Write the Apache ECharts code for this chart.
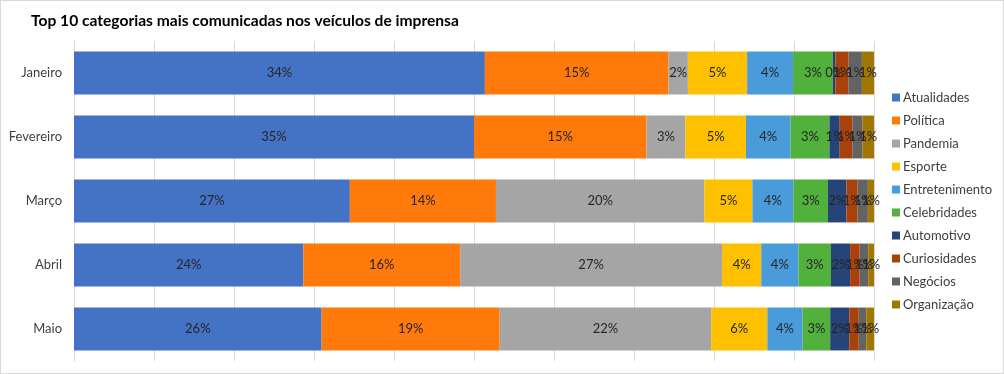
<!DOCTYPE html>
<html>
<head>
<meta charset="utf-8">
<script src="https://cdn.jsdelivr.net/npm/echarts@6/dist/echarts.min.js"></script>
<style>
html,body{margin:0;padding:0;background:#fff;}
#c{width:1004px;height:374px;box-sizing:border-box;border:1px solid #d9d9d9;}
</style>
</head>
<body>
<div id="c"></div>
<script>
const months = ['Janeiro', 'Fevereiro', 'Março', 'Abril', 'Maio'];
const categories = ['Atualidades', 'Política', 'Pandemia', 'Esporte', 'Entretenimento', 'Celebridades', 'Automotivo', 'Curiosidades', 'Negócios', 'Organização'];
const Atualidades = [34.0, 35.0, 27.0, 24.0, 26.0];
const Politica = [15.2, 15.1, 14.3, 16.4, 18.7];
const Pandemia = [1.6, 3.4, 20.4, 27.4, 22.2];
const Esporte = [4.9, 5.3, 4.7, 4.1, 5.9];
const Entretenimento = [3.8, 3.9, 4.0, 3.9, 3.7];
const Celebridades = [3.3, 3.4, 3.4, 3.4, 2.9];
const Automotivo = [0.2, 0.9, 1.8, 2.0, 2.0];
const Curiosidades = [1.1, 1.1, 1.1, 1.0, 1.0];
const Negocios = [1.1, 0.9, 1.0, 0.9, 0.8];
const Organizacao = [1.0, 1.0, 0.6, 0.6, 0.8];
const colors = ['#4472C4', '#FF7A0A', '#A5A5A5', '#FFC000', '#4A9BDA', '#52B03C', '#264478', '#A8420A', '#636363', '#A07700'];

const seriesValues = [Atualidades, Politica, Pandemia, Esporte, Entretenimento, Celebridades, Automotivo, Curiosidades, Negocios, Organizacao];
const totals = months.map((m, i) => seriesValues.reduce((s, arr) => s + arr[i], 0));

const chart = echarts.init(document.getElementById('c'));
chart.setOption({
  animation: false,
  textStyle: { fontFamily: 'Lato' },
  title: {
    text: 'Top 10 categorias mais comunicadas nos veículos de imprensa',
    left: 25, top: 7,
    textStyle: { fontFamily: 'Lato', fontSize: 15.6, fontWeight: 'bold', color: '#000' }
  },
  legend: {
    orient: 'vertical',
    left: 886, top: 85,
    itemWidth: 8, itemHeight: 8, itemGap: 10,
    icon: 'rect',
    data: categories,
    textStyle: { fontFamily: 'Lato', fontSize: 13, color: '#404040', padding: [0, 0, 0, -2] }
  },
  grid: { left: 73, right: 129, top: 40, bottom: 12, containLabel: false },
  xAxis: {
    type: 'value', min: 0, max: 100, interval: 10,
    axisLabel: { show: false },
    axisLine: { show: false }, axisTick: { show: false },
    splitLine: { lineStyle: { color: '#d9d9d9', width: 1 } }
  },
  yAxis: {
    type: 'category', data: months, inverse: true,
    axisLine: { show: true, lineStyle: { color: '#d9d9d9' } },
    axisTick: { show: false },
    axisLabel: { fontFamily: 'Lato', fontSize: 13, color: '#404040', margin: 12 }
  },
  series: categories.map((name, k) => ({
    name: name,
    type: 'bar',
    stack: 'total',
    barCategoryGap: '33%',
    itemStyle: { color: colors[k] },
    label: {
      show: true, position: 'inside',
      fontFamily: 'Lato', fontSize: 13, color: '#262626',
      formatter: p => Math.round(seriesValues[k][p.dataIndex]) + '%'
    },
    labelLayout: { hideOverlap: false },
    data: seriesValues[k].map((v, i) => v / totals[i] * 100)
  }))
});
</script>
</body>
</html>
